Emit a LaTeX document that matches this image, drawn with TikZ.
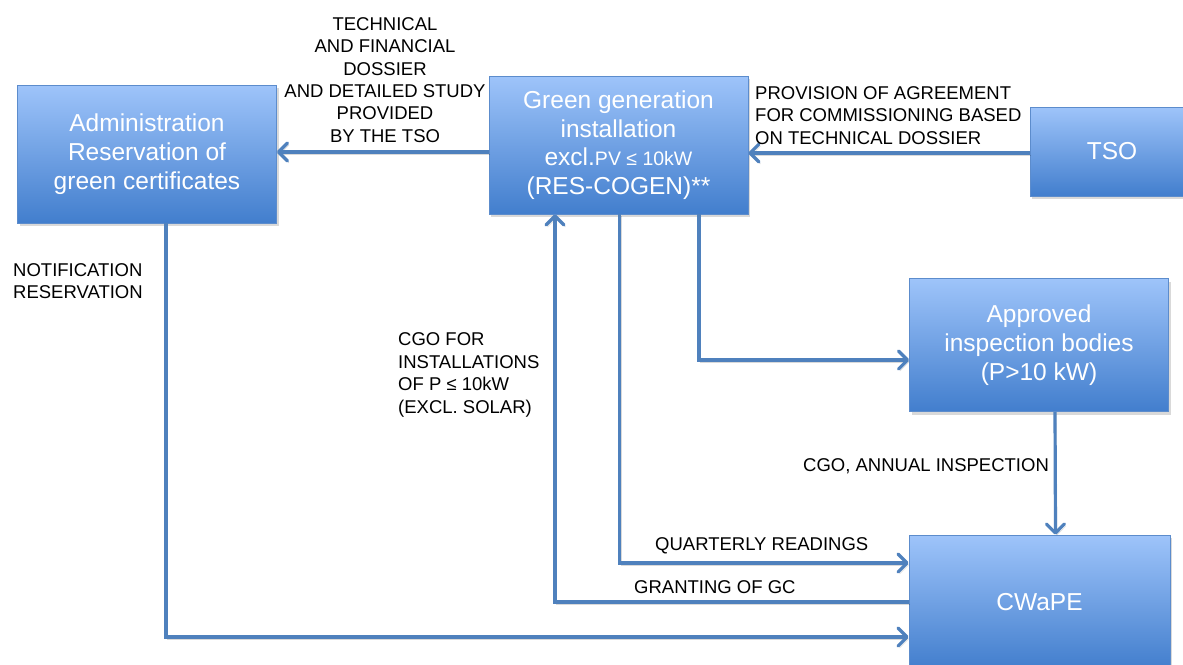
\documentclass[tikz,border=0pt]{standalone}
\usepackage{fontspec}
\setmainfont{Liberation Sans}
\usetikzlibrary{arrows.meta,shadows}
\definecolor{flowblue}{RGB}{79,129,189}
\definecolor{boxtop}{RGB}{158,196,250}
\definecolor{boxbot}{RGB}{66,126,205}
\definecolor{boxedge}{RGB}{92,140,204}
\begin{document}
\begin{tikzpicture}[x=1pt,y=-1pt,
    box/.style={draw=boxedge,line width=0.8pt,top color=boxtop,bottom color=boxbot,
      text=white,align=center,inner sep=0pt,font=\fontsize{24.5}{29}\selectfont,
      drop shadow={shadow xshift=2pt,shadow yshift=-3pt,opacity=0.3}},
    flow/.style={draw=flowblue,line width=3.2pt,-{Straight Barb[length=9pt,width=18pt,round]},
      preaction={draw=black,draw opacity=0.15,transform canvas={shift={(1.5pt,-2pt)}}}},
    lbl/.style={inner sep=0pt,font=\fontsize{18.5}{22.4}\selectfont}]
      \useasboundingbox (0,0) rectangle (1183,664);
      \clip (0,0) rectangle (1183,664);

      % Boxes
      \node[box,minimum width=259,minimum height=138] (adm) at (147,154)
        {Administration\\Reservation of\\green certificates};
      \node[box,minimum width=259,minimum height=138,font=\fontsize{24.5}{28.5}\selectfont] (grn) at (618.5,145)
        {Green generation\\installation\\excl.{\fontsize{19.5}{28.5}\selectfont PV ≤ 10kW}\\(RES-COGEN)**};
      \node[box,minimum width=164,minimum height=89] (tso) at (1112,151.5) {TSO};
      \node[box,minimum width=259,minimum height=133] (ins) at (1039,345)
        {Approved\\inspection bodies\\(P>10 kW)};
      \node[box,minimum width=261,minimum height=134] (cw) at (1039.5,602) {CWaPE};

      % Connectors
      \draw[flow] (grn.west |- 0,152) -- (adm.east |- 0,152);
      \draw[flow] ([yshift=-1.5pt]tso.west) -- ([yshift=-1.5pt]grn.east |- tso.west);
      \draw[flow] ([xshift=19pt]adm.south) |- ([yshift=-35pt]cw.west);
      \draw[flow] ([xshift=1pt]grn.south) |- ([yshift=39pt]cw.west);
      \draw[flow] (cw.west) -| ([xshift=-63.5pt]grn.south);
      \draw[flow] ([xshift=80.5pt]grn.south) |- ([yshift=-15pt]ins.west);
      \draw[flow] ([xshift=16pt]ins.south) -- ([xshift=16pt]cw.north);

      % Labels
      \node[lbl,align=center] (tfd) at (385,80)
        {TECHNICAL\\AND FINANCIAL\\DOSSIER\\AND DETAILED STUDY\\PROVIDED\\BY THE TSO};
      \node[lbl,align=left,anchor=west] (prov) at (755,115.5)
        {PROVISION OF AGREEMENT\\FOR COMMISSIONING BASED\\ON TECHNICAL DOSSIER};
      \node[lbl,align=left,anchor=west] (notif) at (13,281) {NOTIFICATION\\RESERVATION};
      \node[lbl,align=left,anchor=west] (cgo) at (398,375)
        {CGO FOR\\INSTALLATIONS\\OF P ≤ 10kW\\(EXCL. SOLAR)};
      \node[lbl,anchor=west] (annual) at (803,466) {CGO, ANNUAL INSPECTION};
      \node[lbl,anchor=west] (quart) at (655,546) {QUARTERLY READINGS};
      \node[lbl,anchor=west] (grant) at (634,587) {GRANTING OF GC};
    \end{tikzpicture}
\end{document}
